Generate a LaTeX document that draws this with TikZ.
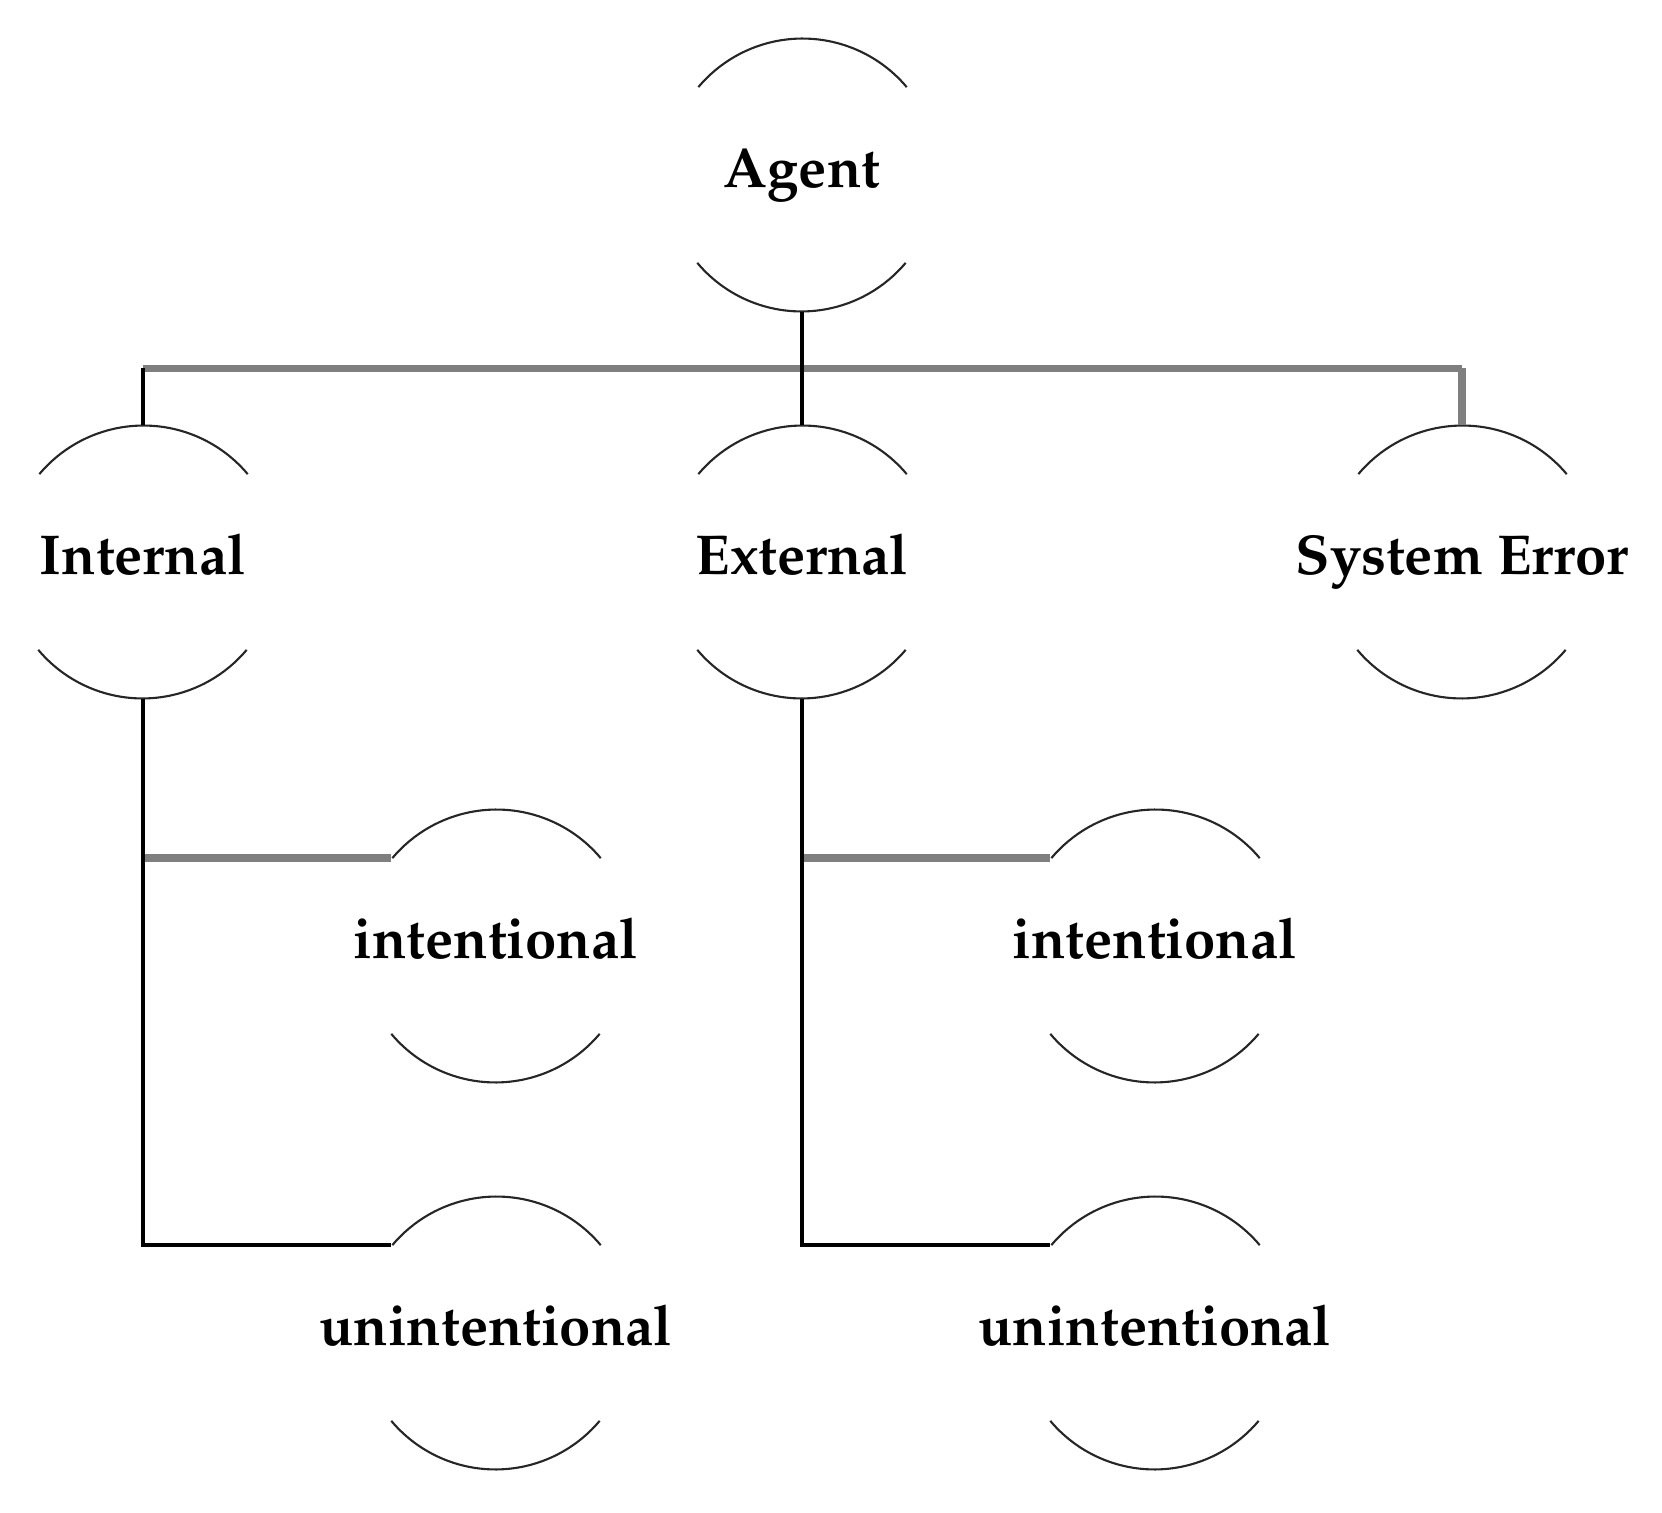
\documentclass[tikz,border=0pt]{standalone}
\usepackage[T1]{fontenc}
\usepackage{mathpazo}
\usepackage{xcolor}
\usepackage{tikz}
\usetikzlibrary{calc}
\definecolor{linkgray}{HTML}{7F7F7F}
\tikzset{
	cell/.style={
			circle, draw=none, inner sep=0pt, minimum size=2.72cm,
			label={[font=\fontsize{16}{19}\selectfont\bfseries,
						text height=0.93em, text depth=0.22em]center:#1}
		},
	rim/.style={black!85, line width=0.6pt},
	stem/.style={black, line width=1pt},
	bar/.style={linkgray, line width=2.2pt}
}

\begin{document}
\begin{tikzpicture}
		\useasboundingbox (0, 0) rectangle (16.62, -15.13);

		\node[cell=Agent]		(agent) at (8.02, -1.75) {};
		\node[cell=Internal]		(int) at (1.43, -5.62) {};
		\node[cell=External]		(ext) at (8.02, -5.62) {};
		\node[cell=System Error]	(sys) at (14.62, -5.62) {};
		\node[cell=intentional]		(intA) at (4.96, -9.46) {};
		\node[cell=unintentional]	(unA) at (4.96, -13.33) {};
		\node[cell=intentional]		(intB) at (11.55, -9.46) {};
		\node[cell=unintentional]	(unB) at (11.55, -13.33) {};

		% open circles: only top and bottom arcs
		\foreach \n in {agent, int, ext, sys, intA, unA, intB, unB} {
				\draw[rim] (\n.40) arc (40:140:1.36cm);
				\draw[rim] (\n.220) arc (220:320:1.36cm);
			}

		\coordinate (bus) at ($(agent.south)!0.5!(ext.north)$);

		\draw[bar]	(int.north |- bus) to (sys.north |- bus);
		\draw[bar]	(sys.north |- bus) to (sys.north);
		\draw[bar]	(int.south |- intA.140) to (intA.140);
		\draw[bar]	(ext.south |- intB.140) to (intB.140);

		\draw[stem]	(agent.south) to (ext.north);
		\draw[stem]	(int.north |- bus) to (int.north);
		\draw[stem]	(int.south) |- (unA.140);
		\draw[stem]	(ext.south) |- (unB.140);
	\end{tikzpicture}
\end{document}
